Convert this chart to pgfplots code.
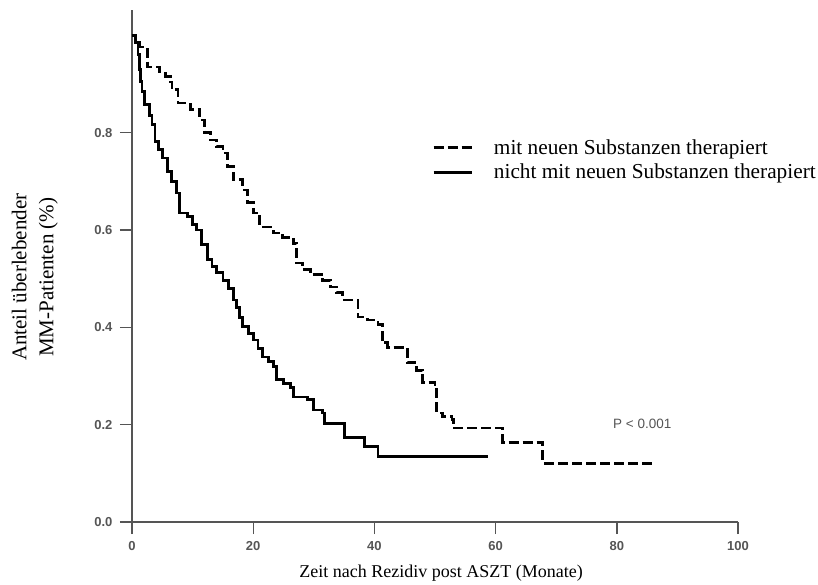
\documentclass[border=0pt]{standalone}
\usepackage{fontspec}
\setmainfont{Liberation Serif}
\setsansfont{Liberation Sans}
\usepackage{pgfplots}
\pgfplotsset{compat=1.18}
\definecolor{axGray}{HTML}{555555}
\definecolor{tkGray}{HTML}{555555}

\pgfplotstableread{
x y
0 1.0
0.5 0.985
1.0 0.96
1.2 0.93
1.4 0.905
1.65 0.884
2.1 0.857
2.9 0.835
3.3 0.816
3.8 0.781
4.4 0.765
5.0 0.748
5.8 0.72
6.5 0.70
7.4 0.676
7.9 0.635
9.2 0.627
10.0 0.612
10.7 0.600
11.5 0.57
12.4 0.539
13.2 0.525
14.0 0.512
15.0 0.497
15.9 0.48
16.7 0.456
17.3 0.44
17.8 0.42
18.3 0.401
19.2 0.388
20.0 0.374
20.8 0.356
21.6 0.339
22.5 0.33
23.3 0.319
23.9 0.292
25.0 0.285
26.1 0.277
26.6 0.257
28.9 0.251
29.9 0.230
31.5 0.224
31.8 0.203
35.1 0.173
38.4 0.155
40.6 0.134
58.7 0.134
}\ohneNeu

\pgfplotstableread{
x y
0 1.0
0.6 0.99
1.3 0.976
2.5 0.964
2.6 0.935
4.6 0.925
5.5 0.915
6.3 0.904
6.6 0.888
7.6 0.861
9.6 0.847
11.2 0.826
12.0 0.800
12.9 0.785
14.0 0.771
15.0 0.758
15.7 0.730
16.7 0.703
18.3 0.682
19.0 0.656
20.0 0.635
21.1 0.606
23.3 0.594
24.9 0.585
26.6 0.573
27.2 0.532
28.2 0.518
29.5 0.508
31.5 0.497
32.7 0.483
33.8 0.471
34.8 0.456
37.3 0.421
38.8 0.415
40.6 0.405
41.3 0.368
42.2 0.358
45.4 0.327
47.0 0.312
48.0 0.286
50.0 0.277
50.3 0.224
51.2 0.216
52.8 0.210
53.0 0.193
61.2 0.163
67.8 0.121
86.3 0.121
}\mitNeu

\begin{document}
\begin{tikzpicture}
\path[use as bounding box] (-132bp,-63bp) rectangle (686bp,522bp);
\begin{axis}[
  at={(0,0)}, anchor=south west,
  scale only axis, width=606bp, height=512bp,
  xmin=0, xmax=100, ymin=0, ymax=1.052,
  axis x line=bottom, axis y line=left,
  axis line style={axGray, line width=1.4bp, -},
  xtick={0,20,40,60,80,100},
  ytick={0,0.2,0.4,0.6,0.8},
  tick align=outside, major tick length=12bp,
  tick style={axGray, line width=1.4bp},
  yticklabel style={/pgf/number format/fixed, /pgf/number format/fixed zerofill,
    /pgf/number format/precision=1, xshift=-4bp},
  xticklabel style={yshift=-4bp},
  /pgf/number format/assume math mode=true,
  ticklabel style={font=\sffamily\bfseries\fontsize{13bp}{15bp}\selectfont, text=tkGray},
  xlabel={Zeit nach Rezidiv post ASZT (Monate)},
  xlabel style={font=\fontsize{18bp}{22bp}\selectfont, at={(rel axis cs:0.51,0)},
    anchor=north, inner sep=0pt, yshift=-43bp},
  ylabel={Anteil überlebender\\MM-Patienten (\%)},
  ylabel style={font=\fontsize{21bp}{27bp}\selectfont, align=center,
    at={(rel axis cs:0,0.478)}, anchor=south, inner sep=0pt, yshift=74bp},
  legend style={at={(axis cs:49.5,0.79)}, anchor=north west, draw=none, fill=none,
    font=\fontsize{21.3bp}{22bp}\selectfont, row sep=4bp, inner sep=0pt,
    nodes={inner sep=2bp}},
  legend cell align=left,
  legend image code/.code={\draw[#1] (0bp,0bp) -- (38bp,0bp);},
  clip=false,
]
\addplot[black, line width=2.8bp, const plot, dash pattern=on 10bp off 4bp] table[x=x, y=y] {\mitNeu};
\addlegendentry{\hspace{19bp}mit neuen Substanzen therapiert}
\addplot[black, line width=2.8bp, const plot] table[x=x, y=y] {\ohneNeu};
\addlegendentry{\hspace{19bp}nicht mit neuen Substanzen therapiert}
\node[font=\sffamily\fontsize{13.5bp}{15bp}\selectfont, text=tkGray] at (axis cs:84.2,0.201) {P < 0.001};
\end{axis}
\end{tikzpicture}
\end{document}
